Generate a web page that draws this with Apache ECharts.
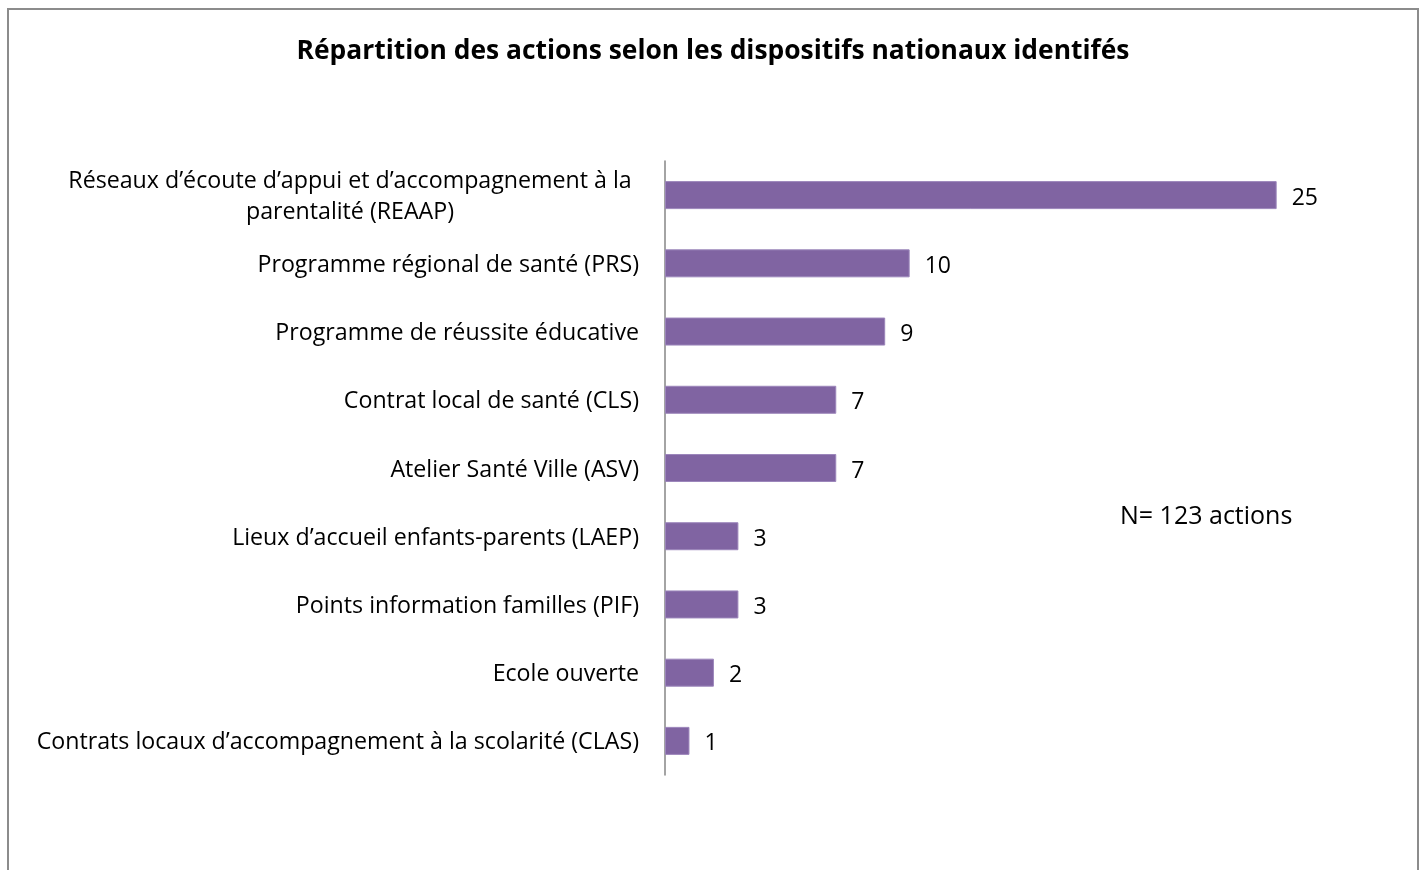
<!DOCTYPE html>
<html>
<head>
<meta charset="utf-8">
<title>Répartition des actions selon les dispositifs nationaux identifés</title>
<script src="https://cdn.jsdelivr.net/npm/echarts@6/dist/echarts.min.js"></script>
<style>
  html, body { margin: 0; padding: 0; background: #fff; }
  #chart { width: 1426px; height: 870px; }
</style>
</head>
<body>
<div id="chart"></div>
<script>
// categories, top to bottom
const categories = [
  "Réseaux d’écoute d’appui et d’accompagnement à la\nparentalité (REAAP)",
  "Programme régional de santé (PRS)",
  "Programme de réussite éducative",
  "Contrat local de santé (CLS)",
  "Atelier Santé Ville (ASV)",
  "Lieux d’accueil enfants-parents (LAEP)",
  "Points information familles (PIF)",
  "Ecole ouverte",
  "Contrats locaux d’accompagnement à la scolarité (CLAS)"
]
const actionCounts = [25, 10, 9, 7, 7, 3, 3, 2, 1]
const totalNote = "N= 123 actions"

const font = "'Open Sans', 'Noto Sans', sans-serif"
const chart = echarts.init(document.getElementById('chart'))

const option = {
  animation: false,
  title: {
    text: "Répartition des actions selon les dispositifs nationaux identifés",
    left: 'center',
    top: 33,
    textStyle: { fontFamily: font, fontSize: 26.4, fontWeight: 'bold', color: '#000' }
  },
  grid: { left: 665, right: 27, top: 161, bottom: 95, containLabel: false },
  xAxis: {
    type: 'value',
    min: 0,
    max: 30,
    show: false
  },
  yAxis: {
    type: 'category',
    inverse: true,
    data: categories,
    axisTick: { show: false },
    axisLine: { show: true, lineStyle: { color: '#868686', width: 1.5 } },
    axisLabel: {
      margin: 26,
      fontFamily: font,
      fontSize: 23.2,
      color: '#000',
      lineHeight: 31,
      padding: [4, 0, 0, 0],
      formatter: function (val, idx) {
        // first label is centred on two lines, like the original
        if (val.indexOf('\n') >= 0) {
          return val.split('\n').map(s => '{c|' + s + '}').join('\n')
        }
        return val
      },
      rich: {
        c: { width: 578, align: 'center', fontFamily: font, fontSize: 23.2, color: '#000', lineHeight: 31 }
      }
    }
  },
  series: [{
    type: 'bar',
    data: actionCounts,
    barWidth: 28,
    itemStyle: { color: '#8064A2', borderColor: '#9c86bb', borderWidth: 1 },
    label: {
      show: true,
      position: 'right',
      distance: 15,
      offset: [0, 3],
      fontFamily: font,
      fontSize: 23,
      color: '#000'
    }
  }],
  graphic: [
    {
      type: 'rect',
      shape: { x: 8, y: 9, width: 1410, height: 900 },
      style: { fill: null, stroke: '#8c8c8c', lineWidth: 2 },
      silent: true
    },
    {
      type: 'text',
      left: 1120,
      top: 504,
      style: { text: totalNote, fontFamily: font, fontSize: 25, fill: '#000' }
    }
  ]
}

chart.setOption(option)
</script>
</body>
</html>
